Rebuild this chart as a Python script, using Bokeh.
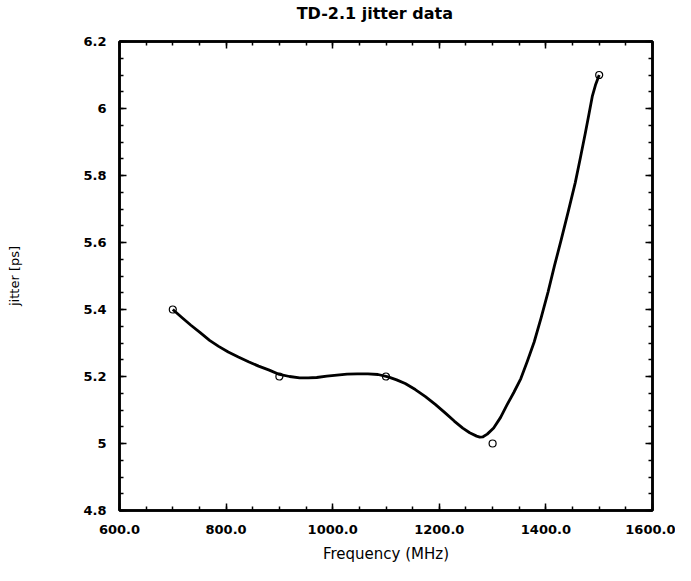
from bokeh.plotting import figure
from bokeh.models import LinearAxis, Range1d, FixedTicker, CustomJSTickFormatter
from bokeh.embed import file_html
from bokeh.resources import INLINE
import numpy as np

# measured data points
freq = [700, 900, 1100, 1300, 1500]
jitter = [5.40, 5.20, 5.20, 5.00, 6.10]

# smooth curve
curve_x = [700, 717, 734, 752, 769, 786, 804, 823, 842, 861, 881, 900, 919, 938,
           954, 970, 989, 1008, 1027, 1046, 1066, 1085, 1104, 1120, 1136, 1155,
           1174, 1193, 1212, 1228, 1244, 1257, 1270, 1276, 1282, 1290, 1302,
           1315, 1327, 1340, 1353, 1365, 1378, 1391, 1404, 1416, 1429, 1442,
           1455, 1465, 1474, 1481, 1487, 1493, 1500]
curve_y = [5.400, 5.376, 5.353, 5.330, 5.308, 5.290, 5.273, 5.258, 5.244, 5.231,
           5.219, 5.206, 5.200, 5.196, 5.196, 5.197, 5.201, 5.204, 5.207, 5.208,
           5.208, 5.206, 5.199, 5.190, 5.179, 5.161, 5.140, 5.116, 5.090, 5.067,
           5.046, 5.032, 5.022, 5.019, 5.020, 5.028, 5.046, 5.078, 5.115, 5.153,
           5.194, 5.245, 5.303, 5.375, 5.452, 5.530, 5.610, 5.693, 5.778, 5.855,
           5.927, 5.985, 6.036, 6.070, 6.100]

x_ticks = [600, 800, 1000, 1200, 1400, 1600]
x_tick_labels = ["600.0", "800.0", "1000.0", "1200.0", "1400.0", "1600.0"]
y_ticks = [4.8, 5.0, 5.2, 5.4, 5.6, 5.8, 6.0, 6.2]
y_tick_labels = ["4.8", "5", "5.2", "5.4", "5.6", "5.8", "6", "6.2"]

title_text = "TD-2.1   jitter   data"
x_title = "Frequency (MHz)"
y_title = "jitter [ps]"

FONT = "DejaVu Sans"

p = figure(width=675, height=565,
           x_range=Range1d(600, 1600), y_range=Range1d(4.8, 6.2),
           output_backend="svg", toolbar_location=None,
           min_border_left=119, min_border_right=23,
           min_border_top=40, min_border_bottom=54)

p.xgrid.visible = False
p.ygrid.visible = False
p.outline_line_color = "black"
p.outline_line_width = 2.5
p.background_fill_color = "white"
p.border_fill_color = "white"

x_minor = [float(v) for v in np.arange(600, 1601, 50)]
y_minor = [round(float(v), 3) for v in np.arange(4.8, 6.2001, 0.05)]
xt = FixedTicker(ticks=x_ticks, minor_ticks=x_minor)
yt = FixedTicker(ticks=y_ticks, minor_ticks=y_minor)

xa = p.below[0]
ya = p.left[0]

blank = CustomJSTickFormatter(code="return ''")
top = LinearAxis(ticker=xt, formatter=blank)
right = LinearAxis(ticker=yt, formatter=blank)
p.add_layout(top, "above")
p.add_layout(right, "right")

for ax in [xa, ya, top, right]:
    ax.axis_line_color = "black"
    ax.axis_line_width = 2.5
    ax.major_tick_in = 7
    ax.major_tick_out = 0
    ax.minor_tick_in = 4
    ax.minor_tick_out = 0
    ax.major_tick_line_color = "black"
    ax.major_tick_line_width = 1.5
    ax.minor_tick_line_color = "black"
    ax.minor_tick_line_width = 1.5

for ax in [top, right]:
    ax.major_label_standoff = 0
    ax.axis_label_standoff = 0
    ax.major_label_text_font_size = "1px"

# chart title drawn as the label of the top axis
top.axis_label = title_text
top.axis_label_text_font = FONT
top.axis_label_text_font_style = "bold"
top.axis_label_text_font_size = "16px"
top.axis_label_text_color = "black"
top.axis_label_standoff = 19

xa.ticker = xt
xa.major_label_overrides = {v: s for v, s in zip(x_ticks, x_tick_labels)}
xa.major_label_text_font = FONT
xa.major_label_text_font_style = "bold"
xa.major_label_text_font_size = "13px"
xa.major_label_text_color = "black"
xa.major_label_standoff = 14
xa.axis_label = x_title
xa.axis_label_text_font = FONT
xa.axis_label_text_font_style = "normal"
xa.axis_label_text_font_size = "15px"
xa.axis_label_text_color = "black"
xa.axis_label_standoff = 8

ya.ticker = yt
ya.major_label_overrides = {v: s for v, s in zip(y_ticks, y_tick_labels)}
ya.major_label_text_font = FONT
ya.major_label_text_font_style = "bold"
ya.major_label_text_font_size = "13px"
ya.major_label_text_color = "black"
ya.major_label_standoff = 13
ya.axis_label = y_title
ya.axis_label_text_font = FONT
ya.axis_label_text_font_style = "normal"
ya.axis_label_text_font_size = "13px"
ya.axis_label_text_color = "black"
ya.axis_label_standoff = 58

p.line(curve_x, curve_y, line_width=2.8, line_color="black", line_join="round")
p.scatter(freq, jitter, marker="circle", size=7, fill_alpha=0,
          line_color="black", line_width=1.2)

open("out.html", "w").write(file_html(p, INLINE))
